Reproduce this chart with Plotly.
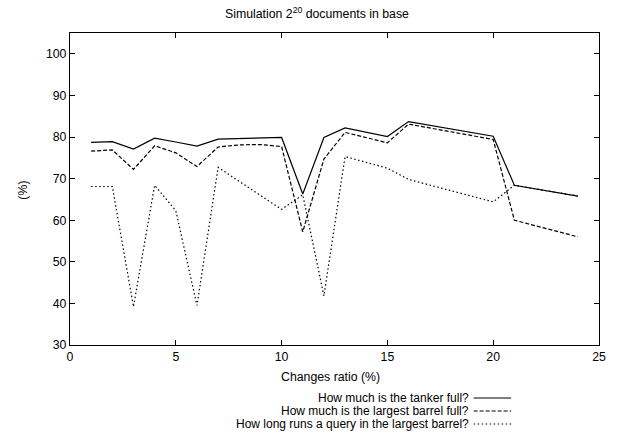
import plotly.graph_objects as go

# ---- data ----
x_vals = [1, 2, 3, 4, 5, 6, 7, 8, 9, 10, 11, 12, 13, 15, 16, 20, 21, 24]
tanker_full = [78.7, 78.9, 77.1, 79.7, 78.8, 77.8, 79.5, 79.6, 79.8, 79.9,
               66.3, 79.9, 82.2, 80.1, 83.7, 80.2, 68.4, 65.8]
barrel_full = [76.6, 76.9, 72.2, 77.9, 76.2, 72.9, 77.6, 78.1, 78.2, 77.7,
               57.2, 74.7, 81.1, 78.6, 83.1, 79.4, 60.0, 56.0]
query_time = [68.1, 68.1, 39.2, 68.4, 62.3, 39.5, 72.7, 69.3, 66.0, 62.6,
              66.1, 41.8, 75.3, 72.5, 69.8, 64.4, 68.4, 65.8]

series_names = ["How much is the tanker full?",
                "How much is the largest barrel full?",
                "How long runs a query in the largest barrel?"]
x_ticks = [0, 5, 10, 15, 20, 25]
y_ticks = [30, 40, 50, 60, 70, 80, 90, 100]

title_text = "Simulation 2<sup>20</sup> documents in base"
x_title = "Changes ratio (%)"
y_title = "(%)"

FONT = "Liberation Sans, Arial, Helvetica, sans-serif"
FS = 12.3
dashes = ["solid", "4px,2px", "1.5px,2.5px"]
series = [tanker_full, barrel_full, query_time]

fig = go.Figure()
for name, ys, d in zip(series_names, series, dashes):
    fig.add_trace(go.Scatter(x=x_vals, y=ys, mode="lines", name=name,
                             line=dict(color="black", width=1.2, dash=d),
                             showlegend=False))

# plot area: x 70..606 px, y 33..345 px
L, R, T, B = 70, 12, 33, 87
W, H = 618 - L - R, 432 - T - B

def px(xp):
    return (xp - L) / W

def py(yp):
    return (432 - B - yp) / H

annotations = [
    dict(text=title_text, x=px(320), y=py(13), xref="paper", yref="paper",
         showarrow=False, xanchor="center", yanchor="middle",
         font=dict(size=FS, family=FONT, color="black")),
    dict(text=x_title, x=px(334), y=py(377), xref="paper", yref="paper",
         showarrow=False, xanchor="center", yanchor="middle",
         font=dict(size=FS, family=FONT, color="black")),
    dict(text=y_title, x=px(22), y=py(190), xref="paper", yref="paper",
         showarrow=False, xanchor="center", yanchor="middle", textangle=-90,
         font=dict(size=FS, family=FONT, color="black")),
]
shapes = []
row_y = [398, 411, 424]
for name, d, ry in zip(series_names, dashes, row_y):
    annotations.append(dict(text=name, x=px(475), y=py(ry), xref="paper",
                            yref="paper", showarrow=False, xanchor="right",
                            yanchor="middle", borderpad=0,
                            font=dict(size=12, family=FONT, color="black")))
    shapes.append(dict(type="line", xref="paper", yref="paper",
                       x0=px(479), x1=px(517), y0=py(ry), y1=py(ry),
                       line=dict(color="black", width=1.2, dash=d)))

fig.update_layout(
    width=618, height=432,
    margin=dict(l=L, r=R, t=T, b=B),
    paper_bgcolor="white", plot_bgcolor="white",
    font=dict(family=FONT, size=FS, color="black"),
    annotations=annotations, shapes=shapes,
    showlegend=False,
)
axis_common = dict(showgrid=False, zeroline=False, showline=True,
                   linecolor="black", linewidth=1.2, mirror="ticks",
                   ticks="inside", ticklen=5, tickcolor="black", tickwidth=1,
                   tickfont=dict(size=FS, family=FONT, color="black"))
fig.update_xaxes(range=[0, 25], tickvals=x_ticks, **axis_common)
fig.update_yaxes(range=[30, 105], tickvals=y_ticks, **axis_common)

fig.write_html("out.html",
               config={"displayModeBar": False},
               post_script="document.body.style.margin='0';"
                           "document.body.style.overflow='hidden';")
